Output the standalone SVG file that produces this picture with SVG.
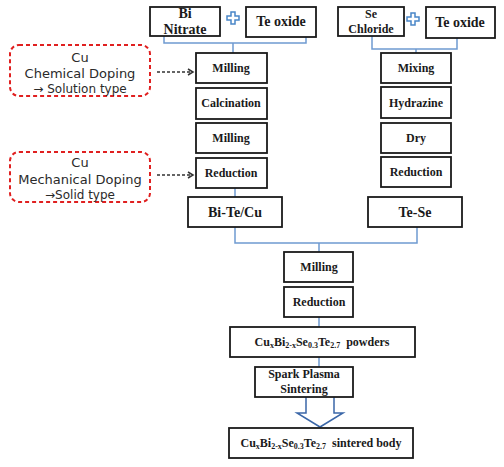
<svg xmlns="http://www.w3.org/2000/svg" width="504" height="467" viewBox="0 0 504 467">
<style>
.box{fill:#fff;stroke:#1a1a1a;stroke-width:1.8}
.t{font-family:"Liberation Serif",serif;font-weight:bold;font-size:12px;fill:#1a1a1a;text-anchor:middle}
.tl{font-size:14px}
.dbox{fill:#fff;stroke:#e02020;stroke-width:2;stroke-dasharray:4,3}
.s{font-family:"DejaVu Sans","Liberation Sans",sans-serif;font-size:13px;fill:#2a2a2a;text-anchor:middle}
.con{fill:none;stroke:#6f9bd1;stroke-width:1.5}
.dash{fill:none;stroke:#333;stroke-width:1.5;stroke-dasharray:3,2}
</style>
<defs>
<marker id="ah" markerWidth="8" markerHeight="8" refX="6" refY="4" orient="auto" markerUnits="userSpaceOnUse">
<path d="M1,1 L6,4 L1,7" fill="none" stroke="#333" stroke-width="1.5"/>
</marker>
</defs>
<rect width="504" height="467" fill="#fff"/>
<g id="connectors">
<path class="con" d="M164,36 V43 H306 V37 M233,43 V53"/>
<path class="con" d="M372,36 V49 H457 V38 M416,49 V53"/>
<path class="con" d="M235,188 V197 M235,227 V243 H417 V227 M319,243 V252"/>
<path class="con" d="M319,317 V327 M319,357 V367"/>
<path class="dash" d="M157,72 H193" marker-end="url(#ah)"/>
<path class="dash" d="M157,175 H193" marker-end="url(#ah)"/>
<path d="M306,397 V413 H297 L320,427 L343,413 H334 V397" fill="#fff" stroke="#3b67a8" stroke-width="1.5"/>
<path d="M227,16 H231 V12 H235 V16 H239 V20 H235 V24 H231 V20 H227 Z" fill="#fff" stroke="#4a86c8" stroke-width="1.5"/>
<path d="M407,17 H411 V13 H415 V17 H419 V21 H415 V25 H411 V21 H407 Z" fill="#fff" stroke="#4a86c8" stroke-width="1.5"/>
</g>
<g id="bi-nitrate"><rect class="box" x="150" y="7" width="70" height="29"/><text class="t tl" x="185" y="18">Bi</text><text class="t tl" x="185" y="34">Nitrate</text></g>
<g id="te-oxide-1"><rect class="box" x="246" y="7" width="70" height="30"/><text class="t tl" x="281" y="26">Te oxide</text></g>
<g id="se-chloride"><rect class="box" x="338" y="7" width="66" height="29"/><text class="t" x="371" y="18">Se</text><text class="t" x="371" y="33">Chloride</text></g>
<g id="te-oxide-2"><rect class="box" x="426" y="7" width="69" height="31"/><text class="t tl" x="460" y="27">Te oxide</text></g>
<g id="chem-doping"><rect class="dbox" x="10" y="45" width="140" height="51" rx="9"/><text class="s" x="80" y="62">Cu</text><text class="s" x="80" y="78">Chemical Doping</text><text class="s" x="80" y="93" style="font-size:12px">→ Solution type</text></g>
<g id="mech-doping"><rect class="dbox" x="10" y="152" width="140" height="50" rx="9"/><text class="s" x="80" y="167">Cu</text><text class="s" x="80" y="184">Mechanical Doping</text><text class="s" x="80" y="199" style="font-size:12px">→Solid type</text></g>
<g id="milling-1"><rect class="box" x="196" y="53" width="71" height="30"/><text class="t" x="231" y="72">Milling</text></g>
<g id="calcination"><rect class="box" x="196" y="88" width="71" height="31"/><text class="t" x="231" y="107">Calcination</text></g>
<g id="milling-2"><rect class="box" x="196" y="123" width="71" height="30"/><text class="t" x="231" y="142">Milling</text></g>
<g id="reduction-1"><rect class="box" x="196" y="158" width="71" height="30"/><text class="t" x="231" y="177">Reduction</text></g>
<g id="bi-te-cu"><rect class="box" x="188" y="197" width="94" height="30"/><text class="t tl" x="235" y="217">Bi-Te/Cu</text></g>
<g id="mixing"><rect class="box" x="381" y="53" width="70" height="30"/><text class="t" x="416" y="72">Mixing</text></g>
<g id="hydrazine"><rect class="box" x="381" y="87" width="70" height="31"/><text class="t" x="416" y="107">Hydrazine</text></g>
<g id="dry"><rect class="box" x="381" y="123" width="70" height="30"/><text class="t" x="416" y="142">Dry</text></g>
<g id="reduction-2"><rect class="box" x="381" y="157" width="70" height="30"/><text class="t" x="416" y="176">Reduction</text></g>
<g id="te-se"><rect class="box" x="368" y="197" width="94" height="30"/><text class="t tl" x="415" y="217">Te-Se</text></g>
<g id="milling-3"><rect class="box" x="284" y="252" width="69" height="30"/><text class="t" x="319" y="271">Milling</text></g>
<g id="reduction-3"><rect class="box" x="284" y="287" width="69" height="30"/><text class="t" x="319" y="306">Reduction</text></g>
<g id="powders"><rect class="box" x="230" y="327" width="185" height="30"/><text class="t" x="322" y="346">Cu<tspan font-size="8" dy="2">x</tspan><tspan dy="-2">Bi</tspan><tspan font-size="8" dy="2">2-x</tspan><tspan dy="-2">Se</tspan><tspan font-size="8" dy="2">0.3</tspan><tspan dy="-2">Te</tspan><tspan font-size="8" dy="2">2.7</tspan><tspan dy="-2" xml:space="preserve">  powders</tspan></text></g>
<g id="sps"><rect class="box" x="255" y="367" width="98" height="30"/><text class="t" x="304" y="378">Spark Plasma</text><text class="t" x="304" y="393">Sintering</text></g>
<g id="sintered"><rect class="box" x="229" y="428" width="184" height="30"/><text class="t" x="321" y="447">Cu<tspan font-size="8" dy="2">x</tspan><tspan dy="-2">Bi</tspan><tspan font-size="8" dy="2">2-x</tspan><tspan dy="-2">Se</tspan><tspan font-size="8" dy="2">0.3</tspan><tspan dy="-2">Te</tspan><tspan font-size="8" dy="2">2.7</tspan><tspan dy="-2" xml:space="preserve">  sintered body</tspan></text></g>
</svg>
